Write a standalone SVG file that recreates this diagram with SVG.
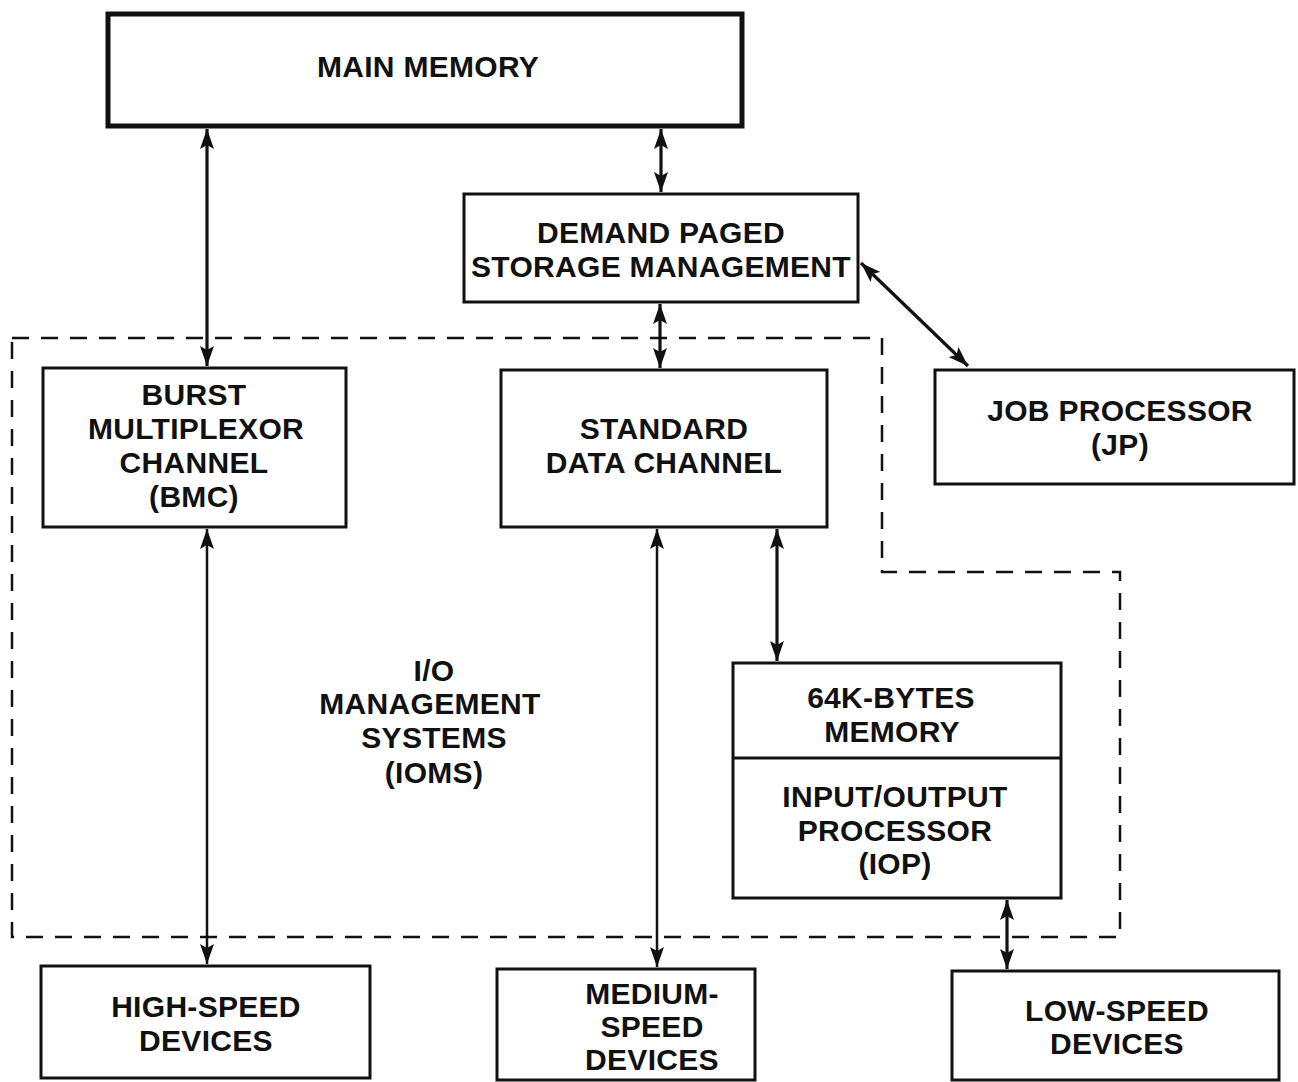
<svg xmlns="http://www.w3.org/2000/svg" width="1298" height="1082" viewBox="0 0 1298 1082">
  <style>
    .box { fill: #fff; stroke: #111; stroke-width: 3; }
    .main { fill: #fff; stroke: #111; stroke-width: 5; }
    .lbl { font-family: "Liberation Sans", Arial, sans-serif; font-weight: bold; font-size: 30px; letter-spacing: 0.3px; fill: #111; text-anchor: middle; }
    .link { stroke: #111; stroke-width: 2.5; fill: none; marker-start: url(#head); marker-end: url(#head); }
    .link.heavy { stroke-width: 3.2; }
    .boundary { stroke: #111; stroke-width: 2.5; fill: none; stroke-dasharray: 17 12; }
  </style>
  <defs>
    <marker id="head" viewBox="0 0 20 14" refX="20" refY="7" markerWidth="20" markerHeight="14" markerUnits="userSpaceOnUse" orient="auto-start-reverse">
      <path d="M0,0 L20,7 L0,14 L4,7 Z" fill="#111"/>
    </marker>
  </defs>
  <rect width="1298" height="1082" fill="#fff"/>

  <!-- I/O management system boundary -->
  <path id="ioms-boundary" class="boundary" d="M12,338 H882 V572 H1120 V937 H12 Z"/>
  <g id="ioms-label">
    <text class="lbl" x="434" y="681">I/O</text>
    <text class="lbl" x="430" y="714">MANAGEMENT</text>
    <text class="lbl" x="434" y="748">SYSTEMS</text>
    <text class="lbl" x="434" y="783">(IOMS)</text>
  </g>

  <!-- connectors -->
  <g id="connectors">
    <line class="link heavy" x1="207" y1="129" x2="207" y2="366"/>
    <line class="link heavy" x1="661" y1="129" x2="661" y2="192"/>
    <line class="link heavy" x1="660" y1="304" x2="660" y2="368"/>
    <line class="link heavy" x1="861" y1="263" x2="968" y2="366"/>
    <line class="link" x1="207" y1="529" x2="207" y2="964"/>
    <line class="link" x1="657" y1="529" x2="657" y2="967"/>
    <line class="link heavy" x1="777" y1="529" x2="777" y2="661"/>
    <line class="link heavy" x1="1007" y1="900" x2="1007" y2="969"/>
  </g>

  <g id="main-memory">
    <rect class="main" x="108" y="14" width="634" height="112"/>
    <text class="lbl" x="428" y="77">MAIN MEMORY</text>
  </g>

  <g id="dpsm">
    <rect class="box" x="464" y="194" width="394" height="108"/>
    <text class="lbl" x="661" y="243">DEMAND PAGED</text>
    <text class="lbl" x="661" y="277">STORAGE MANAGEMENT</text>
  </g>

  <g id="bmc">
    <rect class="box" x="43" y="368" width="303" height="159"/>
    <text class="lbl" x="194" y="405">BURST</text>
    <text class="lbl" x="196" y="439">MULTIPLEXOR</text>
    <text class="lbl" x="194" y="473">CHANNEL</text>
    <text class="lbl" x="194" y="507">(BMC)</text>
  </g>

  <g id="sdc">
    <rect class="box" x="501" y="370" width="326" height="157"/>
    <text class="lbl" x="664" y="439">STANDARD</text>
    <text class="lbl" x="664" y="473">DATA CHANNEL</text>
  </g>

  <g id="jp">
    <rect class="box" x="935" y="370" width="359" height="114"/>
    <text class="lbl" x="1120" y="421">JOB PROCESSOR</text>
    <text class="lbl" x="1120" y="455">(JP)</text>
  </g>

  <g id="iop">
    <rect class="box" x="733" y="663" width="328" height="235"/>
    <line x1="733" y1="758" x2="1061" y2="758" stroke="#111" stroke-width="3"/>
    <text class="lbl" x="891" y="708">64K-BYTES</text>
    <text class="lbl" x="892" y="742">MEMORY</text>
    <text class="lbl" x="895" y="807">INPUT/OUTPUT</text>
    <text class="lbl" x="895" y="841">PROCESSOR</text>
    <text class="lbl" x="895" y="874">(IOP)</text>
  </g>

  <g id="high-speed">
    <rect class="box" x="41" y="966" width="329" height="112"/>
    <text class="lbl" x="206" y="1017">HIGH-SPEED</text>
    <text class="lbl" x="206" y="1051">DEVICES</text>
  </g>

  <g id="medium-speed">
    <rect class="box" x="497" y="969" width="258" height="111"/>
    <text class="lbl" x="652" y="1004">MEDIUM-</text>
    <text class="lbl" x="652" y="1037">SPEED</text>
    <text class="lbl" x="652" y="1070">DEVICES</text>
  </g>

  <g id="low-speed">
    <rect class="box" x="952" y="971" width="327" height="109"/>
    <text class="lbl" x="1117" y="1021">LOW-SPEED</text>
    <text class="lbl" x="1117" y="1054">DEVICES</text>
  </g>
</svg>
